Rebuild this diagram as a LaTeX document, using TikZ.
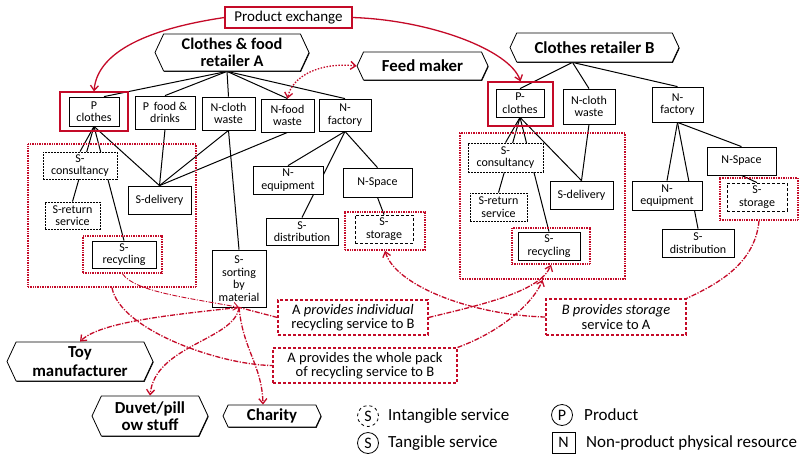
\documentclass[tikz,border=0pt]{standalone}
\usepackage{fontspec}
\setmainfont{Carlito}
\usetikzlibrary{shapes.symbols,shadows,arrows.meta,calc}
\definecolor{linkred}{RGB}{196,10,40}
\pgfdeclarelayer{bg}
\pgfsetlayers{bg,main}

\tikzset{
  wh/.style 2 args={minimum width=#1, minimum height=#2},
  box/.style={draw=black, line width=0.8pt, fill=white, align=center, inner sep=0pt,
    font=\fontsize{12}{12.5}\selectfont},
  heavy/.style={drop shadow={shadow xshift=0.6pt, shadow yshift=-0.9pt, fill=black, opacity=1}},
  softdash/.style={dash pattern=on 2.2pt off 0.8pt},
  actor/.style={signal, signal to=east and west, signal pointer angle=130, draw=black,
    line width=0.8pt, fill=white, align=center, inner sep=0pt,
    font=\bfseries\fontsize{16.8}{17.5}\selectfont, heavy},
  group/.style={draw=linkred, line width=1.6pt, dash pattern=on 1pt off 0.7pt, inner sep=0pt},
  prodframe/.style={draw=linkred, line width=1.1pt, inner sep=0pt},
  note/.style={draw=linkred, line width=1.1pt, dash pattern=on 3pt off 2pt, align=center,
    inner sep=0pt, fill=white, font=\fontsize{14.5}{14.5}\selectfont},
  link/.style={draw=linkred, line width=1.3pt, dash pattern=on 5pt off 1.5pt on 1.2pt off 1.5pt,
    -{Straight Barb[length=5pt,width=8pt]}},
  plainlink/.style={draw=linkred, line width=1.3pt, dash pattern=on 5pt off 1.5pt on 1.2pt off 1.5pt},
  twoway/.style={draw=linkred, line width=1.3pt, dash pattern=on 1.5pt off 1.5pt,
    {Straight Barb[length=5pt,width=8pt]}-{Straight Barb[length=5pt,width=8pt]}},
  tie/.style={draw=black, line width=1pt},
  legend/.style={anchor=west, inner sep=0pt, font=\fontsize{17}{18}\selectfont},
  keymark/.style={circle, draw, line width=0.8pt, minimum size=21pt, inner sep=0pt,
    font=\fontsize{16}{16}\selectfont}
}

\begin{document}
\begin{tikzpicture}[x=1pt,y=-1pt]
\useasboundingbox (0,0) rectangle (799,455);

% ---------- actors ----------
\node[actor, wh={154}{37}, font=\bfseries\fontsize{16.3}{16.5}\selectfont] (A) at (232,52.5) {Clothes \& food\\retailer A};
\node[actor, wh={131}{28}] (Feed) at (422.5,66) {Feed maker};
\node[actor, wh={169}{29}] (B) at (594.5,47.5) {Clothes retailer B};
\node[actor, wh={146}{39}, font=\bfseries\fontsize{16.8}{19}\selectfont] (Toy) at (80,361.5) {Toy\\manufacturer};
\node[actor, wh={116}{40}] (Duvet) at (150,416) {Duvet/pill\\ow stuff};
\node[actor, wh={98}{22}] (Charity) at (272,416) {Charity};

\node[box, prodframe, fill=white, wh={127}{21}, font=\fontsize{15}{15}\selectfont] (pex) at (288.5,17.5) {Product exchange};

% ---------- retailer A resources ----------
\node[group, wh={168}{143}] (bigA) at (112,215.5) {};
\node[prodframe, wh={68}{39}] (PclA) at (94,111.5) {};
\node[box, wh={50}{29}] (PclAi) at (94,111.5) {P\\clothes};
\node[box, heavy, wh={60}{33}] (PfoodA) at (165,112.5) {P\, food \&\\drinks};
\node[box, heavy, wh={53}{33}] (NclothA) at (228.5,113.5) {N-cloth\\waste};
\node[box, heavy, wh={53}{33}] (NfoodA) at (287.5,115.5) {N-food\\waste};
\node[box, heavy, wh={52}{32}] (NfactA) at (345,115) {N-\\factory};
\node[box, softdash, wh={74}{27}] (SconsA) at (80,165.5) {S-\\consultancy};
\node[box, softdash, wh={55}{27}] (SretA) at (72.5,215.5) {S-return\\service};
\node[box, wh={63}{28}] (SdelA) at (159.5,200) {S-delivery};
\node[group, wh={79}{37}] (SrecA) at (122.5,254.5) {};
\node[box, wh={64}{27}] (SrecAi) at (124,254.5) {S-\\recycling};
\node[box, heavy, wh={70}{28}] (NequipA) at (288,180) {N-\\equipment};
\node[box, heavy, wh={72}{27}] (SdistA) at (302,231.5) {S-\\distribution};
\node[box, heavy, wh={69}{29}] (NspaceA) at (377.5,182.5) {N-Space};
\node[group, wh={80}{38}] (SstorA) at (385,231) {};
\node[box, dash pattern=on 3pt off 2pt, wh={58}{28}] (SstorAi) at (384,229) {S-\\storage};
\node[box, heavy, wh={54}{57}] (SsortA) at (239,278.5) {S-\\sorting\\by\\material};

% ---------- retailer B resources ----------
\node[group, wh={165}{146}] (bigB) at (542.5,206) {};
\node[prodframe, wh={65}{44}] (PclB) at (520.5,104) {};
\node[box, wh={48}{28}] (PclBi) at (520,103) {P-\\clothes};
\node[box, heavy, wh={52}{35}] (NclothB) at (589,106.5) {N-cloth\\waste};
\node[box, heavy, wh={51}{35}] (NfactB) at (677.5,104.5) {N-\\factory};
\node[box, softdash, wh={75}{29}] (SconsB) at (505.5,157.5) {S-\\consultancy};
\node[box, softdash, wh={57}{28}] (SretB) at (498.5,207) {S-return\\service};
\node[box, wh={63}{28}] (SdelB) at (581.5,195) {S-delivery};
\node[group, wh={78}{36}] (SrecB) at (551,246) {};
\node[box, wh={62}{28}] (SrecBi) at (549,246) {S-\\recycling};
\node[box, heavy, wh={70}{29}] (NequipB) at (667,195.5) {N-\\equipment};
\node[box, heavy, wh={72}{28}] (SdistB) at (698,243) {S-\\distribution};
\node[box, heavy, wh={69}{28}] (NspaceB) at (741.5,161) {N-Space};
\node[group, wh={78}{42}] (SstorB) at (759,199) {};
\node[box, dash pattern=on 3pt off 2pt, wh={60}{28}] (SstorBi) at (757,197) {S-\\storage};

% ---------- exchange notes ----------
\node[note, wh={150}{35}] (indiv) at (353,317.5) {A \textit{provides individual}\\recycling service to B};
\node[note, wh={184}{35}] (whole) at (365,365.5) {A provides the whole pack\\of recycling service to B};
\node[note, wh={140}{36}] (Bstor) at (616,317) {\textit{B provides storage}\\service to A};

% ---------- legend ----------
\node[keymark, dashed] (lgI) at (368,416) {S};
\node[legend] (lgIt) at (388,416) {Intangible service};
\node[keymark] (lgT) at (368,443) {S};
\node[legend] (lgTt) at (388,443) {Tangible service};
\node[keymark] (lgP) at (562,415) {P};
\node[legend] (lgPt) at (584,415) {Product};
\node[box, heavy, wh={23}{21}, font=\fontsize{16}{16}\selectfont] (lgN) at (563.5,442.5) {N};
\node[legend] (lgNt) at (586,442.5) {Non-product physical resource};

% ---------- ownership ties ----------
\begin{pgfonlayer}{bg}
  % retailer A
  \draw[tie] ($(A.south)+(-5,0)$) -- ($(PclAi.north)+(10,0)$);
  \draw[tie] ($(A.south)+(-5,0)$) -- (PfoodA.north);
  \draw[tie] ($(A.south)+(-5,0)$) -- (NclothA.north);
  \draw[tie] ($(A.south)+(-5,0)$) -- (NfoodA.north);
  \draw[tie] ($(A.south)+(-5,0)$) -- (NfactA.north);
  \draw[tie] (PclAi.south) -- (SconsA.north);
  \draw[tie] (PclAi.south) -- (SretA.north);
  \draw[tie] (PclAi.south) -- (SrecAi.north);
  \draw[tie] (PclAi.south) -- (SdelA.north);
  \draw[tie] (PfoodA.south) -- (SdelA.north);
  \draw[tie] (NclothA.south) -- (SdelA.north);
  \draw[tie] (NfoodA.south) -- (SdelA.north);
  \draw[tie] (NclothA.south) -- (SsortA.north);
  \draw[tie] (NfactA.south) -- (NequipA.north);
  \draw[tie] (NfactA.south) -- (SdistA.north);
  \draw[tie] (NfactA.south) -- (NspaceA.north);
  \draw[tie] (NspaceA.south) -- (SstorAi.north);
  % retailer B
  \draw[tie] ($(B.south)+(-22,0)$) -- (PclBi.north);
  \draw[tie] ($(B.south)+(-22,0)$) -- (NclothB.north);
  \draw[tie] ($(B.south)+(-22,0)$) -- (NfactB.north);
  \draw[tie] (PclBi.south) -- (SconsB.north);
  \draw[tie] (PclBi.south) -- (SretB.north);
  \draw[tie] (PclBi.south) -- (SrecBi.north);
  \draw[tie] (PclBi.south) -- (SdelB.north);
  \draw[tie] (NclothB.south) -- (SdelB.north);
  \draw[tie] (NfactB.south) -- (NequipB.north);
  \draw[tie] (NfactB.south) -- (SdistB.north);
  \draw[tie] (NfactB.south) -- (NspaceB.north);
  \draw[tie] (NspaceB.south) -- (SstorBi.north);
\end{pgfonlayer}

% ---------- exchanges ----------
\draw[link, solid] (pex.west) .. controls (140,30) and (97,55) .. (PclA.north);
\draw[link, solid] (pex.east) .. controls (430,20) and (510,50) .. (PclB.north);
\draw[twoway] (Feed.west) .. controls (320,62) and (292,76) .. (NfoodA.north);

\draw[link] (Bstor.west) .. controls (470,315) and (395,285) .. (SstorA.south);
\draw[plainlink] (SstorB.south) .. controls (755,265) and (715,285) .. (Bstor.north east);

\draw[link] (indiv.east) .. controls (480,305) and (540,292) .. (SrecB.south);
\draw[link] (whole.north east) .. controls (505,330) and (535,300) .. (bigB.south);
\draw[plainlink] (bigA.south) .. controls (120,330) and (220,365) .. (whole.west);

\draw[link, line width=0.9pt] (SrecA.south) .. controls (135,292) and (190,298) .. (SsortA.south);
\draw[plainlink] (indiv.west) -- (SsortA.south);

\draw[link] (SsortA.south) .. controls (170,315) and (100,322) .. (Toy.north);
\draw[link] (SsortA.south) .. controls (235,340) and (155,345) .. (Duvet.north);
\draw[link] (SsortA.south) .. controls (243,350) and (262,365) .. ($(Charity.north)+(-9,0)$);
\end{tikzpicture}
\end{document}
